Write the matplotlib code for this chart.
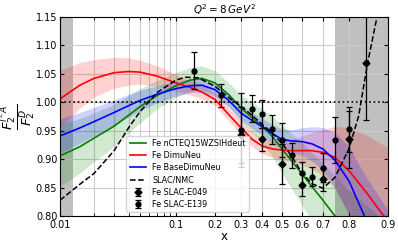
import numpy as np
import matplotlib
matplotlib.use("Agg")
import matplotlib.pyplot as plt
from matplotlib.ticker import FixedLocator, FixedFormatter, NullFormatter

# x grid shared by the fitted curves
xs = [0.01, 0.015, 0.02, 0.03, 0.04, 0.05, 0.07, 0.1, 0.13, 0.16, 0.2, 0.25, 0.3,
      0.35, 0.4, 0.45, 0.5, 0.55, 0.6, 0.65, 0.7, 0.75, 0.8, 0.85, 0.9]

green = [0.906, 0.922, 0.937, 0.958, 0.977, 0.992, 1.012, 1.029, 1.039, 1.042, 1.034,
         1.013, 0.99, 0.973, 0.958, 0.94, 0.918, 0.897, 0.875, 0.852, 0.828, 0.80,
         0.77, 0.74, 0.70]
green_err = [0.055, 0.048, 0.043, 0.037, 0.033, 0.03, 0.025, 0.022, 0.021, 0.021, 0.021,
             0.021, 0.023, 0.026, 0.03, 0.035, 0.042, 0.048, 0.054, 0.06, 0.065, 0.07,
             0.075, 0.08, 0.085]

red = [1.006, 1.030, 1.042, 1.052, 1.054, 1.053, 1.046, 1.034, 1.026, 1.018, 1.005,
       0.978, 0.955, 0.935, 0.923, 0.918, 0.916, 0.915, 0.915, 0.915, 0.912, 0.903,
       0.88, 0.843, 0.79]
red_err = [0.05, 0.04, 0.033, 0.027, 0.024, 0.021, 0.018, 0.015, 0.013, 0.012, 0.011,
           0.011, 0.012, 0.013, 0.014, 0.015, 0.017, 0.02, 0.025, 0.032, 0.04, 0.055,
           0.075, 0.1, 0.13]

blue = [0.941, 0.955, 0.966, 0.982, 0.994, 1.003, 1.014, 1.024, 1.029, 1.030, 1.022,
        1.003, 0.981, 0.968, 0.957, 0.945, 0.935, 0.932, 0.931, 0.927, 0.918, 0.898,
        0.862, 0.795, 0.72]
blue_err = [0.03, 0.027, 0.025, 0.022, 0.02, 0.018, 0.015, 0.013, 0.012, 0.012, 0.012,
            0.012, 0.013, 0.014, 0.015, 0.016, 0.018, 0.02, 0.024, 0.03, 0.038, 0.048,
            0.06, 0.075, 0.09]

# SLAC/NMC parametrisation (dashed)
x_slac = [0.01, 0.015, 0.02, 0.03, 0.04, 0.05, 0.07, 0.1, 0.12, 0.15, 0.2, 0.25, 0.3,
          0.35, 0.4, 0.45, 0.5, 0.55, 0.6, 0.65, 0.7, 0.75, 0.8, 0.83, 0.855, 0.88]
y_slac = [0.828, 0.856, 0.875, 0.915, 0.955, 0.983, 1.017, 1.039, 1.044, 1.043, 1.028,
          1.008, 0.993, 0.977, 0.961, 0.946, 0.928, 0.905, 0.877, 0.857, 0.849, 0.868,
          0.918, 0.975, 1.069, 1.16]

# data
x_e049 = [0.3, 0.4, 0.5, 0.6, 0.7, 0.8, 0.85]
y_e049 = [0.9425, 0.935, 0.891, 0.8545, 0.8645, 0.935, 1.069]
e_e049 = [0.05, 0.02, 0.035, 0.02, 0.02, 0.05, 0.10]

x_e139 = [0.14, 0.22, 0.3, 0.35, 0.4, 0.45, 0.5, 0.55, 0.6, 0.65, 0.7, 0.75, 0.8]
y_e139 = [1.0555, 1.012, 0.951, 0.989, 0.979, 0.9525, 0.933, 0.907, 0.875, 0.869,
          0.885, 0.934, 0.9525]
e_e139 = [0.033, 0.02, 0.065, 0.024, 0.025, 0.025, 0.03, 0.022, 0.02, 0.017, 0.025,
          0.04, 0.04]

xmajor = [0.01, 0.1, 0.2, 0.3, 0.4, 0.5, 0.6, 0.7, 0.8, 0.9]
xlabels = ['0.01', '0.1', '0.2', '0.3', '0.4', '0.5', '0.6', '0.7', '0.8', '0.9']
xminor = [0.02, 0.03, 0.04, 0.05, 0.06, 0.07, 0.08, 0.09]

fig = plt.figure(figsize=(3.98, 2.45), dpi=100)
ax = fig.add_axes([0.151, 0.118, 0.824, 0.813])
ax.set_xscale('logit')

ax.axvspan(0.01, 0.013, color='#c0c0c0', zorder=0.5, lw=0)
ax.axvspan(0.75, 0.9, color='#c0c0c0', zorder=0.5, lw=0)

xa = np.array(xs)
for c, e, col, lab in [(green, green_err, 'green', 'Fe nCTEQ15WZSIHdeut'),
                       (red, red_err, 'red', 'Fe DimuNeu'),
                       (blue, blue_err, 'blue', 'Fe BaseDimuNeu')]:
    c = np.array(c)
    e = np.array(e)
    ax.fill_between(xa, c - e, c + e, color=col, alpha=0.18, lw=0, zorder=1)
    ax.plot(xa, c, color=col, lw=1.2, label=lab, zorder=2)

ax.plot(x_slac, y_slac, 'k--', lw=1.1, label='SLAC/NMC', zorder=3)
ax.axhline(1.0, color='k', ls=':', lw=1.2, zorder=3)

ax.errorbar(x_e049, y_e049, yerr=e_e049, fmt='D', color='k', ms=3.5, capsize=2.5,
            elinewidth=0.9, capthick=0.9, label='Fe SLAC-E049', zorder=4)
ax.errorbar(x_e139, y_e139, yerr=e_e139, fmt='o', color='k', ms=3.5, capsize=2.5,
            elinewidth=0.9, capthick=0.9, label='Fe SLAC-E139', zorder=4)

ax.set_xlim(0.01, 0.9)
ax.set_ylim(0.80, 1.15)
ax.xaxis.set_major_locator(FixedLocator(xmajor))
ax.xaxis.set_major_formatter(FixedFormatter(xlabels))
ax.xaxis.set_minor_locator(FixedLocator(xminor))
ax.xaxis.set_minor_formatter(NullFormatter())
ax.set_yticks(np.arange(0.80, 1.151, 0.05))
ax.set_yticklabels(['0.80', '0.85', '0.90', '0.95', '1.00', '1.05', '1.10', '1.15'])
ax.tick_params(which='both', direction='in', top=True, right=True, labelsize=7, pad=2)
ax.tick_params(axis='x', which='major', pad=3)
ax.tick_params(which='major', length=3)
ax.tick_params(which='minor', length=2)
ax.grid(True, which='both', color='#cccccc', lw=0.8, zorder=0)
ax.set_axisbelow(True)

ax.set_title(r'$Q^2 = 8\,GeV^2$', fontsize=7.5, pad=2)
ax.set_xlabel('x', fontsize=8.5, labelpad=0)
ax.set_ylabel(r'$\dfrac{F_2^{l^{\pm}A}}{F_2^D}$', fontsize=9.5)
ax.yaxis.set_label_coords(-0.07, 0.5)

ax.legend(loc='lower left', bbox_to_anchor=(0.19, 0.0), fontsize=5.8, framealpha=0.8,
          handlelength=2.0, labelspacing=0.4, borderpad=0.4)

fig.savefig('out.png', dpi=100)
